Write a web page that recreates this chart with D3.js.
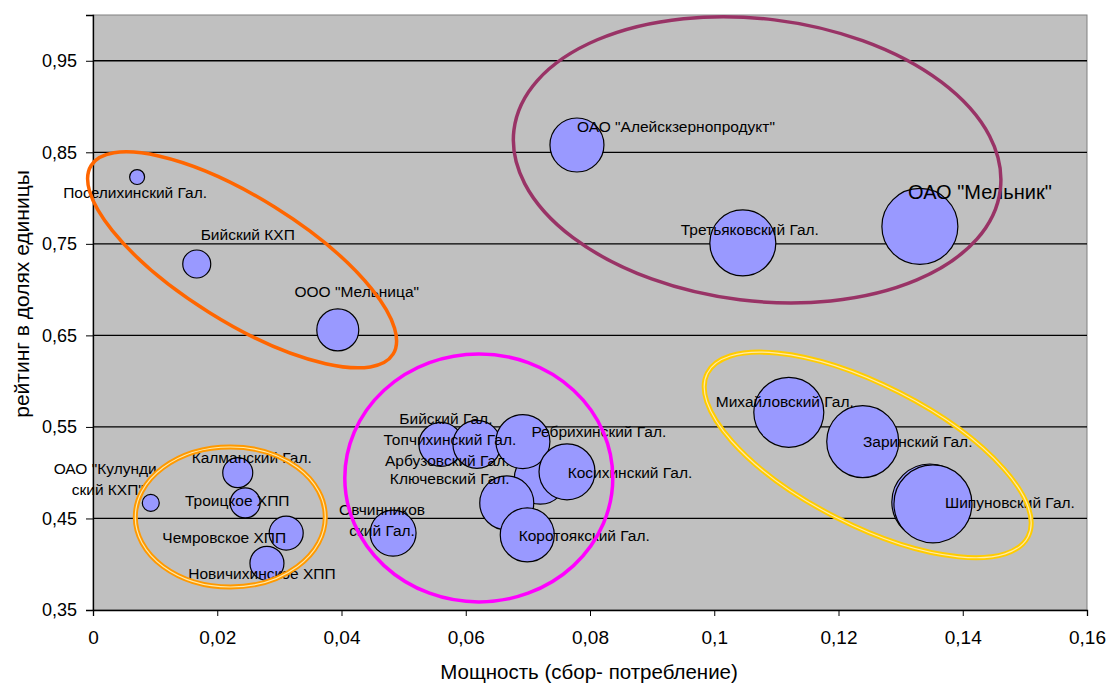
<!DOCTYPE html>
<html><head><meta charset="utf-8">
<script src="https://cdn.jsdelivr.net/npm/d3@7"></script>
<style>
html,body{margin:0;padding:0;background:#fff;}
svg{display:block;font-family:"Liberation Sans",Arial,sans-serif;}
</style></head>
<body>
<svg id="chart" width="1107" height="686"></svg>
<script>
// ---- data ----
const names = [
  "Поселихинский Гал.", "Бийский КХП", "ООО \"Мельница\"", "ОАО \"Алейскзернопродукт\"",
  "Третьяковский Гал.", "ОАО \"Мельник\"", "Михайловский Гал.", "Заринский Гал.",
  "", "Шипуновский Гал.", "Калманский Гал.", "ОАО \"Кулунди-\nский КХП\"",
  "Троицкое ХПП", "Чемровское ХПП", "Новичихинское ХПП", "Овчинников\nский Гал.",
  "Арбузовский Гал.", "Бийский Гал.", "Топчихинский Гал.", "Ребрихинский Гал.",
  "Косихинский Гал.", "Ключевский Гал.", "Коротоякский Гал."
];
const power = [
  0.0071, 0.0167, 0.0394, 0.0779, 0.1046, 0.1331, 0.1120, 0.1239,
  0.1347, 0.1352, 0.0233, 0.0093, 0.0245, 0.0311, 0.0280, 0.0483,
  0.0720, 0.0560, 0.0618, 0.0692, 0.0763, 0.0666, 0.0699
];
const rating = [
  0.823, 0.728, 0.656, 0.858, 0.751, 0.769, 0.566, 0.534,
  0.468, 0.466, 0.500, 0.467, 0.467, 0.434, 0.401, 0.434,
  0.494, 0.531, 0.531, 0.534, 0.501, 0.467, 0.432
];
const volume = [
  5.6, 19.6, 44.1, 72.9, 108.9, 144.4, 122.5, 129.6,
  144.4, 152.1, 22.5, 7.2, 22.5, 28.9, 28.9, 52.9,
  67.6, 48.4, 57.6, 72.9, 78.4, 72.9, 72.9
];
const xTicks = [0, 0.02, 0.04, 0.06, 0.08, 0.1, 0.12, 0.14, 0.16];
const yTicks = [0.35, 0.45, 0.55, 0.65, 0.75, 0.85, 0.95];
const xTitle = "Мощность (сбор- потребление)";
const yTitle = "рейтинг в долях единицы";

// label offsets (px) relative to bubble centre
const labelDx = [-2, 51, 19, 99, 7, 60, -4, 55, 0, 77, 14, -43, -8, -62, -5, -11, -93, 5, -27, 76, 63, -57, 57];
const labelDy = [16, -29, -38, -18, -13, -34, -11, 0, 0, -1, -15, -34, -2, 4, 10, -24, -18, -26, -5, -10, 1, -24, 1];
const labelSize = [15.5,15.5,15.5,15.5,15.5,20,15.5,15.5,15.5,15.5,15.5,15.5,15.5,15.5,15.5,15.5,15.5,15.5,15.5,15.5,15.5,15.5,15.5];

// annotation ovals (centre in data units, radii in px)
const ovalCx = [0.0240, 0.1069, 0.0621, 0.0221, 0.1247];
const ovalCy = [0.7325, 0.8418, 0.4943, 0.4516, 0.5194];
const ovalRx = [178, 245, 134, 95, 180];
const ovalRy = [62, 141, 124, 70, 70];
const ovalRot = [32, 7, 0, 0, 27];
const ovalColor = ["#FF6600", "#993366", "#FF00FF", "#FF9900", "#FFCC00"];
const ovalDouble = [false, false, false, true, true];

// ---- chart ----
const svg = d3.select("#chart");
const L = 93, R = 1087, T = 15, B = 610;
const x = d3.scaleLinear().domain([0, 0.16]).range([L, R]);
const y = d3.scaleLinear().domain([0.35, 1.0]).range([B, T]);
const r = d3.scaleSqrt().domain([0, d3.max(volume)]).range([0, 39]);
const fmt = v => String(v).replace(".", ",");

svg.append("rect").attr("x", L).attr("y", T).attr("width", R - L).attr("height", B - T)
  .attr("fill", "#C0C0C0").attr("stroke", "#808080").attr("stroke-width", 1);

// gridlines
svg.append("g").selectAll("line").data(yTicks.slice(1)).join("line")
  .attr("x1", L).attr("x2", R).attr("y1", d => y(d)).attr("y2", d => y(d))
  .attr("stroke", "#000").attr("stroke-width", 1.3);

// axes
const xAxis = d3.axisBottom(x).tickValues(xTicks).tickFormat(fmt).tickSize(6).tickPadding(15);
const gx = svg.append("g").attr("transform", `translate(0,${B})`).call(xAxis);
gx.select(".domain").attr("stroke", "#000").attr("stroke-width", 1.3);
gx.selectAll(".tick line").attr("stroke", "#000");
gx.selectAll("text").attr("font-size", 19).attr("fill", "#000")
  .attr("font-family", "Liberation Sans, Arial, sans-serif");

const yAxis = d3.axisLeft(y).tickValues(yTicks).tickFormat(fmt).tickSize(7).tickPadding(9);
const gy = svg.append("g").attr("transform", `translate(${L},0)`).call(yAxis);
gy.select(".domain").attr("stroke", "#000").attr("stroke-width", 1.3);
gy.selectAll(".tick line").attr("stroke", "#000");
gy.selectAll("text").attr("font-size", 18).attr("fill", "#000")
  .attr("font-family", "Liberation Sans, Arial, sans-serif");

// titles
svg.append("text").attr("x", 589).attr("y", 679)
  .attr("text-anchor", "middle").attr("font-size", 20.5).attr("fill", "#000")
  .text(xTitle);
svg.append("text").attr("transform", `translate(29,294) rotate(-90)`)
  .attr("text-anchor", "middle").attr("font-size", 21).attr("fill", "#000")
  .text(yTitle);

// bubbles
const idx = d3.range(names.length);
svg.append("g").selectAll("circle").data(idx).join("circle")
  .attr("cx", i => x(power[i])).attr("cy", i => y(rating[i])).attr("r", i => r(volume[i]))
  .attr("fill", "#9999FF").attr("stroke", "#000").attr("stroke-width", 1.2);

// labels
const lg = svg.append("g");
idx.forEach(i => {
  if (!names[i]) return;
  const lines = names[i].split("\n");
  const cx = x(power[i]) + labelDx[i], cy = y(rating[i]) + labelDy[i];
  const t = lg.append("text").attr("text-anchor", "middle")
    .attr("font-size", labelSize[i]).attr("fill", "#000");
  lines.forEach((ln, k) => {
    t.append("tspan").attr("x", cx).attr("y", cy + k * 21).attr("dy", "0.35em").text(ln);
  });
});

// ovals
const og = svg.append("g").attr("fill", "none");
d3.range(ovalCx.length).forEach(i => {
  const g = og.append("g")
    .attr("transform", `translate(${x(ovalCx[i])},${y(ovalCy[i])}) rotate(${ovalRot[i]})`);
  if (ovalDouble[i]) {
    g.append("ellipse").attr("rx", ovalRx[i]).attr("ry", ovalRy[i])
      .attr("stroke", ovalColor[i]).attr("stroke-width", 5);
    g.append("ellipse").attr("rx", ovalRx[i]).attr("ry", ovalRy[i])
      .attr("stroke", "#FFE9A8").attr("stroke-width", 1.2);
  } else {
    g.append("ellipse").attr("rx", ovalRx[i]).attr("ry", ovalRy[i])
      .attr("stroke", ovalColor[i]).attr("stroke-width", 3.5);
  }
});
</script>
</body></html>
